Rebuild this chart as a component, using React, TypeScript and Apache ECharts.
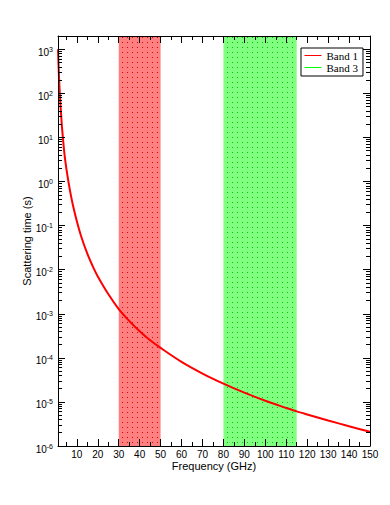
import React, { useEffect, useRef } from 'react';
import * as echarts from 'echarts';

// Curve (frequency in GHz, scattering time in s)
const frequencies = [1, 1.5, 2, 2.5, 3, 4, 5, 6, 7, 8, 10, 12, 15, 18, 20, 25, 30, 35, 40, 45, 50, 60, 70, 80, 90, 100, 110, 115, 120, 130, 140, 150];
const scatteringTimes = [1000, 220, 75, 32, 15, 4.6, 1.95, 0.98, 0.53, 0.31, 0.125, 0.058, 0.023, 0.0108, 0.007, 0.0028, 0.00128, 0.00069, 0.0004, 0.00025, 0.000168, 0.000081, 0.000044, 0.000026, 0.0000162, 0.0000106, 0.0000073, 0.0000061, 0.0000052, 0.0000038, 0.0000028, 0.0000021];

// Frequency bands
const band1 = [30, 50];
const band3 = [80, 115];

// Axis ticks
const xMin = 1;
const xMax = 150;
const xMajorTicks = [10, 20, 30, 40, 50, 60, 70, 80, 90, 100, 110, 120, 130, 140, 150];
const xMinorTicks = [5, 15, 25, 35, 45, 55, 65, 75, 85, 95, 105, 115, 125, 135, 145];
const yMin = 1e-6;
const yMax = 2000;
const yMajorTicks = [1e-6, 1e-5, 1e-4, 1e-3, 1e-2, 1e-1, 1, 10, 100, 1000];
const minorMultipliers = [2, 3, 4, 5, 6, 7, 8, 9];
const yMinorTicks = yMajorTicks.flatMap((d) => minorMultipliers.map((m) => m * d)).filter((v) => v <= yMax);

const SANS = 'Liberation Sans, Arial, sans-serif';
const SERIF = 'Liberation Serif, Times New Roman, serif';

function dotPattern(bg: string, dot: string) {
  const svg = `<svg xmlns='http://www.w3.org/2000/svg' width='5' height='5'><rect width='5' height='5' fill='${bg}'/><rect x='2' y='2' width='1' height='1' fill='${dot}'/></svg>`;
  return {
    image: 'data:image/svg+xml;charset=utf-8,' + encodeURIComponent(svg),
    repeat: 'repeat',
    imageWidth: 5,
    imageHeight: 5,
  } as any;
}

const lineStyle = { color: '#000', width: 1 };

function xAxisDef(position: 'top' | 'bottom', ticks: number[], len: number, main: boolean) {
  return {
    type: 'value',
    position,
    min: xMin,
    max: xMax,
    z: 5,
    axisLine: { show: main, onZero: false, lineStyle },
    axisTick: { show: true, inside: true, length: len, customValues: ticks, lineStyle },
    axisLabel: main && position === 'bottom'
      ? { show: true, customValues: xMajorTicks, margin: 3, fontSize: 10, fontFamily: SANS, color: '#000' }
      : { show: false },
    splitLine: { show: false },
    ...(main && position === 'bottom'
      ? {
          name: 'Frequency (GHz)',
          nameLocation: 'middle',
          nameGap: 14,
          nameMoveOverlap: false,
          nameTextStyle: { fontSize: 11, fontFamily: SANS, color: '#000' },
        }
      : {}),
  };
}

function yAxisDef(position: 'left' | 'right', ticks: number[], len: number, main: boolean) {
  return {
    type: 'log',
    logBase: 10,
    position,
    min: yMin,
    max: yMax,
    z: 5,
    axisLine: { show: main, onZero: false, lineStyle },
    axisTick: { show: true, inside: true, length: len, customValues: ticks, lineStyle },
    axisLabel: main && position === 'left'
      ? {
          show: true,
          customValues: yMajorTicks,
          margin: 5,
          formatter: (v: number) => `{b|10}{s|${Math.round(Math.log10(v))}}`,
          rich: {
            b: { fontSize: 10, fontFamily: SANS, color: '#000', padding: [6, 0, 0, 0] },
            s: { fontSize: 7, fontFamily: SANS, color: '#000' },
          },
        }
      : { show: false },
    splitLine: { show: false },
    minorTick: { show: false },
    ...(main && position === 'left'
      ? {
          name: 'Scattering time (s)',
          nameLocation: 'middle',
          nameGap: 26,
          nameMoveOverlap: false,
          nameTextStyle: { fontSize: 11, fontFamily: SANS, color: '#000' },
        }
      : {}),
  };
}

export default function App() {
  const ref = useRef<HTMLDivElement>(null);
  useEffect(() => {
    const chart = echarts.init(ref.current!, null, { renderer: 'svg' });
    const curve = frequencies.map((f, i) => [f, scatteringTimes[i]]);
    const option: any = {
      animation: false,
      backgroundColor: '#fff',
      grid: { left: 58, right: 20, top: 36, bottom: 59, containLabel: false },
      legend: {
        show: true,
        orient: 'vertical',
        left: 301,
        top: 48,
        data: [
          { name: 'Band 1', lineStyle: { color: '#ff0000', width: 1 } },
          { name: 'Band 3', lineStyle: { color: '#00ff00', width: 1 } },
        ],
        itemWidth: 17,
        itemHeight: 11,
        itemGap: 1,
        padding: [2, 5, 3, 3],
        borderColor: '#000',
        borderWidth: 1,
        backgroundColor: '#fff',
        itemStyle: { opacity: 0 },
        textStyle: { fontSize: 11, fontFamily: SERIF, color: '#000', lineHeight: 11 },
      },
      xAxis: [
        xAxisDef('bottom', xMajorTicks, 7, true),
        xAxisDef('bottom', xMinorTicks, 4, false),
        xAxisDef('top', xMajorTicks, 7, true),
        xAxisDef('top', xMinorTicks, 4, false),
      ],
      yAxis: [
        yAxisDef('left', yMajorTicks, 7, true),
        yAxisDef('left', yMinorTicks, 4, false),
        yAxisDef('right', yMajorTicks, 7, true),
        yAxisDef('right', yMinorTicks, 4, false),
      ],
      series: [
        {
          name: 'Band 1',
          type: 'line',
          data: [],
          symbol: 'none',
          color: '#ff0000',
          lineStyle: { width: 1, color: '#ff0000' },
          z: 1,
          markArea: {
            silent: true,
            itemStyle: { color: dotPattern('#ff8080', '#e00000'), opacity: 1 },
            data: [[{ xAxis: band1[0] }, { xAxis: band1[1] }]],
          },
        },
        {
          name: 'Band 3',
          type: 'line',
          data: [],
          symbol: 'none',
          color: '#00ff00',
          lineStyle: { width: 1, color: '#00ff00' },
          z: 1,
          markArea: {
            silent: true,
            itemStyle: { color: dotPattern('#80ff80', '#00c800'), opacity: 1 },
            data: [[{ xAxis: band3[0] }, { xAxis: band3[1] }]],
          },
        },
        {
          name: 'Scattering time',
          type: 'line',
          data: curve,
          smooth: 0.3,
          symbol: 'none',
          color: '#ff0000',
          lineStyle: { width: 2, color: '#ff0000' },
          z: 3,
        },
      ],
    };
    chart.setOption(option);
    return () => chart.dispose();
  }, []);
  return <div ref={ref} style={{ position: 'fixed', left: 0, top: 0, width: 390, height: 505 }} />;
}
